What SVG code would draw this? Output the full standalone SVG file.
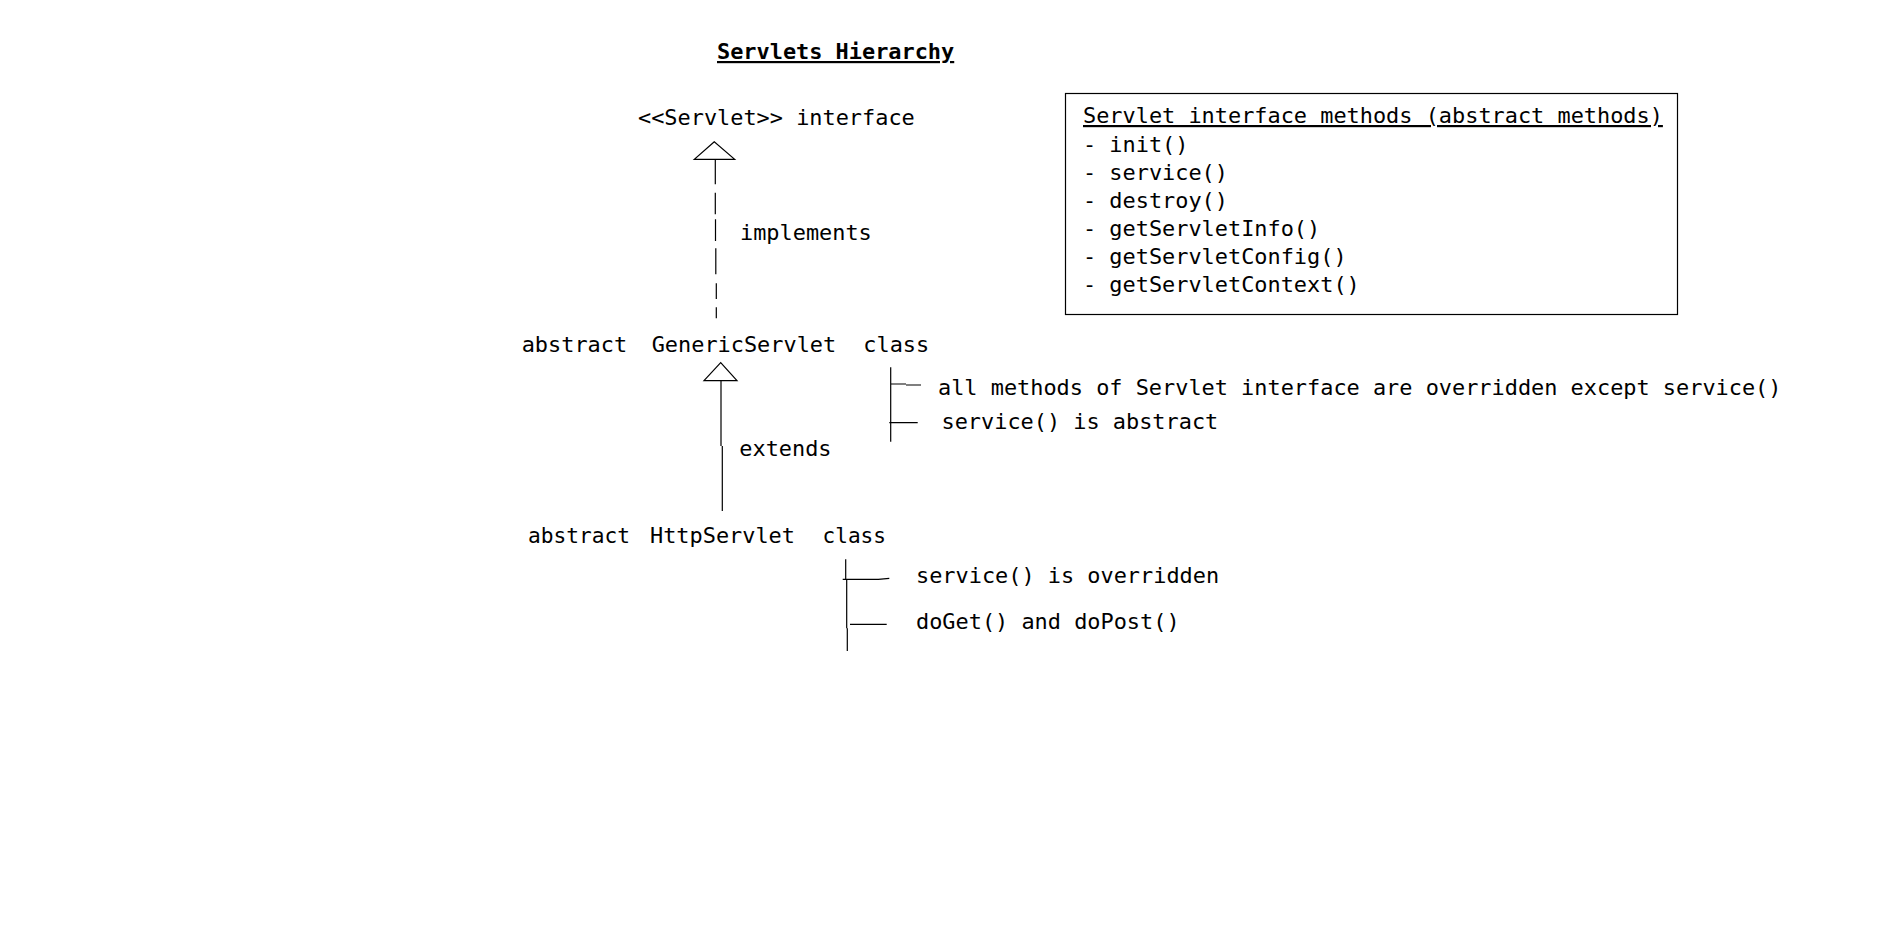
<svg xmlns="http://www.w3.org/2000/svg" width="1883" height="951" viewBox="0 0 1883 951">
<style>
  text { font-family: "DejaVu Sans Mono", "Liberation Mono", monospace; font-size: 21.9px; fill: #000; }
  .title { font-weight: bold; text-decoration: underline; }
  .ul { text-decoration: underline; }
  .ln { stroke: #000; stroke-width: 1.2; fill: none; }
  .tri { stroke: #000; stroke-width: 1.2; fill: #fff; }
</style>
<rect x="0" y="0" width="1883" height="951" fill="#fff"/>

<g id="title">
  <text class="title" x="717" y="59">Servlets Hierarchy</text>
</g>

<g id="servlet-interface">
  <text x="638" y="125">&lt;&lt;Servlet&gt;&gt; interface</text>
</g>

<g id="methods-box">
  <rect class="ln" x="1065.5" y="93.5" width="612" height="221"/>
  <text class="ul" x="1083" y="123">Servlet interface methods (abstract methods)</text>
  <text x="1083" y="151.5">- init()</text>
  <text x="1083" y="179.5">- service()</text>
  <text x="1083" y="207.5">- destroy()</text>
  <text x="1083" y="235.5">- getServletInfo()</text>
  <text x="1083" y="264">- getServletConfig()</text>
  <text x="1083" y="292">- getServletContext()</text>
</g>

<g id="generic-servlet">
  <text x="521.7" y="351.5">abstract</text>
  <text x="651.7" y="351.5">GenericServlet</text>
  <text x="863.3" y="351.5">class</text>
</g>

<g id="generic-notes">
  <path class="ln" d="M890.7 367.3 V441.7 M890.7 384 H906 M906 385 H921 M889.3 422.7 H917.7"/>
  <text x="938" y="395">all methods of Servlet interface are overridden except service()</text>
  <text x="941.5" y="429">service() is abstract</text>
</g>

<g id="http-servlet">
  <text x="528" y="542.5" textLength="102" lengthAdjust="spacingAndGlyphs">abstract</text>
  <text x="650" y="542.5">HttpServlet</text>
  <text x="822.5" y="542.5" textLength="63.5" lengthAdjust="spacingAndGlyphs">class</text>
</g>

<g id="http-notes">
  <path class="ln" d="M845.7 559.3 V580 M846.7 580 V628.3 M847.3 628.3 V651 M842.7 579.3 H878.3 L889.3 578.3 M850 624.3 H886.7"/>
  <text x="916" y="583">service() is overridden</text>
  <text x="916" y="629">doGet() and doPost()</text>
</g>

<g id="connectors">
  <g id="implements">
    <path class="ln" d="M715.3 160 V184.3 M715.3 192.7 V214.3 M715.5 219.3 V241 M715.8 248.3 V274.3 M716.3 283.3 V299 M716.3 307.3 V318.3"/>
    <polygon class="tri" points="714.3,141.7 694.3,159.3 734.7,159.3"/>
    <text x="740" y="240">implements</text>
  </g>
  <g id="extends">
    <path class="ln" d="M721 380.7 V446 M722.3 446 V511"/>
    <polygon class="tri" points="720.7,362.7 704,380.7 737,380.7"/>
    <text x="739.3" y="456">extends</text>
  </g>
</g>
</svg>
